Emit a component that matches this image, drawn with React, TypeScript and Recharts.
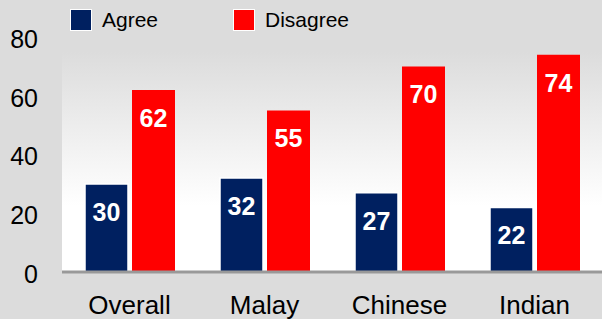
import React from 'react';
import {
  BarChart,
  Bar,
  XAxis,
  YAxis,
  Legend,
  LabelList,
  ReferenceArea,
} from 'recharts';

const groups = ['Overall', 'Malay', 'Chinese', 'Indian'];
const agree = [30, 32, 27, 22];
const disagree = [62, 55, 70, 74];
const yTicks = [0, 20, 40, 60, 80];

const NAVY = '#002060';
const RED = '#ff0000';
const FONT = '"Liberation Sans", Arial, sans-serif';

const data = groups.map((name, i) => ({
  name,
  Agree: agree[i],
  Disagree: disagree[i],
}));

const legendItems = [
  { label: 'Agree', color: NAVY, left: 70 },
  { label: 'Disagree', color: RED, left: 233 },
];

// legend box height doubles as the top offset of the plot
const renderLegend = () => (
  <div style={{ position: 'relative', width: 602, height: 37 }}>
    {legendItems.map((it) => (
      <div
        key={it.label}
        style={{
          position: 'absolute',
          left: it.left,
          top: 8,
          display: 'flex',
          alignItems: 'center',
          fontFamily: FONT,
          fontSize: 21,
          lineHeight: '23px',
          color: '#000',
        }}
      >
        <span
          style={{
            width: 20,
            height: 20,
            background: it.color,
            border: '1.5px solid #fff',
            marginRight: 10,
          }}
        />
        <span>{it.label}</span>
      </div>
    ))}
  </div>
);

const barLabel = (props: any) => {
  const { x, y, width, value } = props;
  return (
    <text
      x={x + width / 2}
      y={y + 28}
      fill="#fff"
      textAnchor="middle"
      dominantBaseline="central"
      fontFamily={FONT}
      fontWeight="bold"
      fontSize={25}
    >
      {value}
    </text>
  );
};

export default function App() {
  return (
    <div
      style={{
        position: 'absolute',
        left: 0,
        top: 0,
        width: 602,
        height: 319,
        background: '#dcdcdc',
      }}
    >
      <BarChart
        width={602}
        height={319}
        data={data}
        margin={{ top: 0, right: 0, left: 0, bottom: 0 }}
        barSize={43}
        barGap={4}
      >
        <defs>
          <linearGradient id="plotBg" x1="0" y1="0" x2="0" y2="1">
            <stop offset="0%" stopColor="#dcdcdc" />
            <stop offset="70%" stopColor="#ffffff" />
            <stop offset="100%" stopColor="#ffffff" />
          </linearGradient>
        </defs>
        <ReferenceArea
          y1={0}
          y2={75}
          fill="url(#plotBg)"
          fillOpacity={1}
          stroke="none"
          ifOverflow="visible"
        />
        <XAxis
          dataKey="name"
          height={47}
          axisLine={{ stroke: '#999999', strokeWidth: 3 }}
          tickLine={false}
          tickMargin={18}
          tick={{ fill: '#000', fontSize: 26, fontFamily: FONT }}
        />
        <YAxis
          width={62}
          domain={[0, 80]}
          ticks={yTicks}
          axisLine={false}
          tickLine={false}
          tickSize={0}
          tickMargin={24}
          tick={{ fill: '#000', fontSize: 25, fontFamily: FONT, dy: 2 }}
        />
        <Legend
          verticalAlign="top"
          content={renderLegend}
          wrapperStyle={{ position: 'absolute', top: 0, left: 0, width: 602 }}
        />
        <Bar
          dataKey="Agree"
          fill={NAVY}
          stroke="#fff"
          strokeWidth={1.5}
          isAnimationActive={false}
        >
          <LabelList dataKey="Agree" content={barLabel} />
        </Bar>
        <Bar dataKey="Disagree" fill={RED} isAnimationActive={false}>
          <LabelList dataKey="Disagree" content={barLabel} />
        </Bar>
      </BarChart>
    </div>
  );
}
